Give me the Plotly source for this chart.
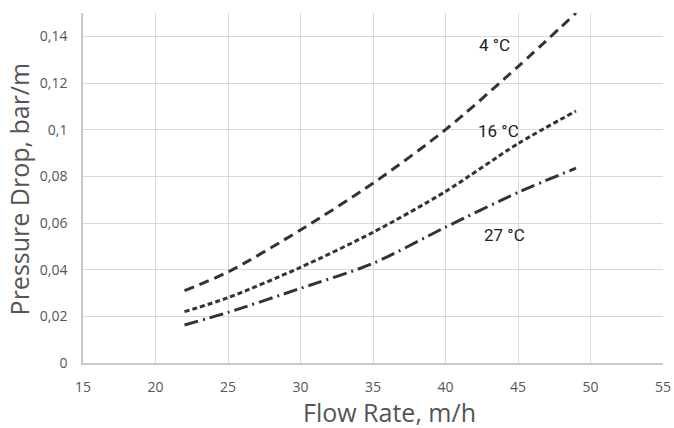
import plotly.graph_objects as go

flow = [22, 25, 30, 35, 40, 45, 49]
dp_4c = [0.031, 0.039, 0.057, 0.077, 0.100, 0.127, 0.150]
dp_16c = [0.022, 0.028, 0.041, 0.056, 0.0735, 0.094, 0.108]
dp_27c = [0.0163, 0.0217, 0.032, 0.0427, 0.0582, 0.0731, 0.0835]

labels = ["4 °C", "16 °C", "27 °C"]
label_x = [43.41, 43.66, 44.1]
label_y = [0.1363, 0.0994, 0.0549]

x_ticks = [15, 20, 25, 30, 35, 40, 45, 50, 55]
y_ticks = [0, 0.02, 0.04, 0.06, 0.08, 0.1, 0.12, 0.14]

col = "#333333"
fig = go.Figure()
for ys, dash in [(dp_4c, "10px,6px"), (dp_16c, "5px,3px"), (dp_27c, "14px,5px,2px,5px")]:
    fig.add_trace(go.Scatter(x=flow, y=ys, mode="lines",
                             line=dict(color=col, width=3, dash=dash, shape="spline", smoothing=0.8),
                             showlegend=False, hoverinfo="skip"))

for t, x, y in zip(labels, label_x, label_y):
    fig.add_annotation(x=x, y=y, text=t, showarrow=False,
                       font=dict(family="Roboto", size=17, color="#222222"))

# axis titles
fig.add_annotation(xref="paper", yref="paper", x=0.529, y=0, yshift=-49, yanchor="middle",
                   text="Flow Rate, m/h", showarrow=False,
                   font=dict(family="Open Sans", size=25, color="#555555"))
fig.add_annotation(xref="paper", yref="paper", x=0, y=0.496, xshift=-64, xanchor="center",
                   text="Pressure Drop, bar/m", textangle=-90, showarrow=False,
                   font=dict(family="Open Sans", size=25, color="#555555"))

fig.update_layout(
    width=674, height=428,
    margin=dict(l=83, r=11, t=13, b=65, autoexpand=False),
    paper_bgcolor="white", plot_bgcolor="white",
    separators=",.",
    font=dict(family="Open Sans", color="#555555"),
)
fig.update_xaxes(range=[15, 55], tickvals=x_ticks, showgrid=True, gridcolor="#d9d9d9", gridwidth=1.2,
                 showline=True, linecolor="#c8c8c8", linewidth=1.5, zeroline=False, automargin=False,
                 tickfont=dict(size=14, color="#555555"), ticks="outside", ticklen=10, tickcolor="white")
fig.update_yaxes(range=[0, 0.15], tickvals=y_ticks, showgrid=True, gridcolor="#d9d9d9", gridwidth=1.2,
                 showline=True, linecolor="#c8c8c8", linewidth=1.5, zeroline=False, automargin=False,
                 tickfont=dict(size=14, color="#555555"), ticks="outside", ticklen=11, tickcolor="white")

fig.write_html("out.html", config={"displayModeBar": False},
               post_script="document.body.style.margin='0';")
